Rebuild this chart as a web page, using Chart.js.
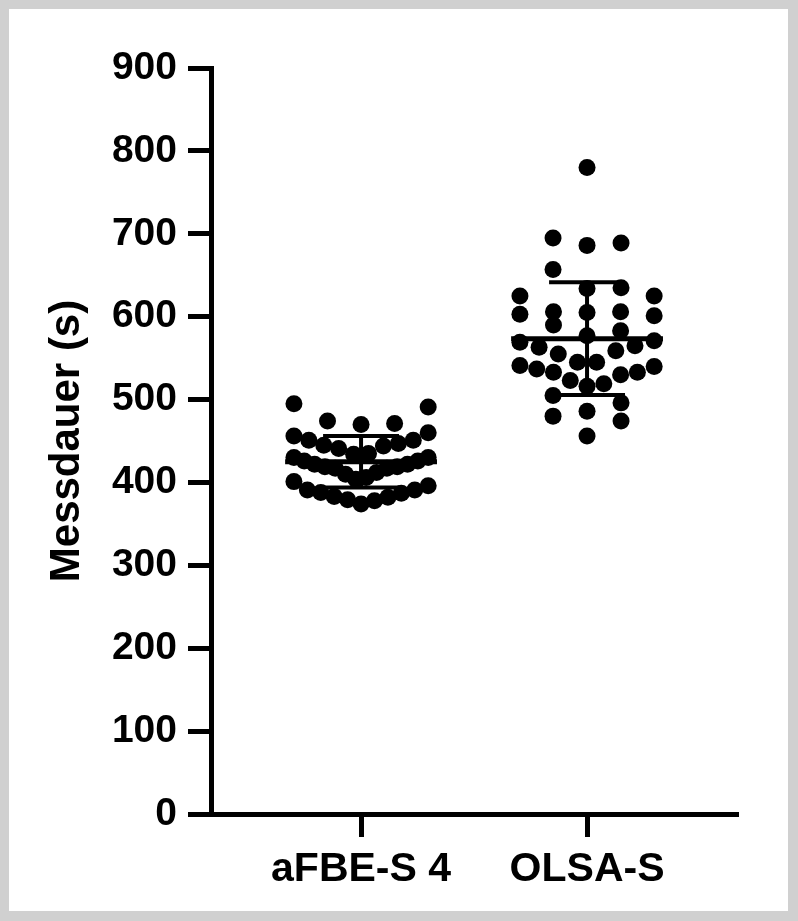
<!DOCTYPE html>
<html>
<head>
<meta charset="utf-8">
<title>Messdauer</title>
<script src="https://cdn.jsdelivr.net/npm/chart.js@4.4.1/dist/chart.umd.min.js"></script>
<style>
  html, body { margin: 0; padding: 0; background: #d0d0d0; }
  #frame { position: absolute; left: 9px; top: 9px; width: 779px; height: 902px; background: #fff; }
  canvas { display: block; }
</style>
</head>
<body>
<div id="frame"><canvas id="chart" width="779" height="902"></canvas></div>
<script>
// Categories and values
const categories = ['aFBE-S 4', 'OLSA-S'];
const afbeValues = [495, 491, 474, 470, 471, 456, 460, 451, 445, 441,
                    434, 435, 444, 447, 451, 430, 430, 426, 422, 419,
                    417, 426, 422, 419, 417, 412, 410, 406, 404, 401,
                    396, 391, 388, 383, 379, 374, 378, 382, 387, 391];
const olsaValues = [780, 695, 686, 689, 657, 634, 635, 625, 625, 605,
                    603, 601, 606, 606, 590, 577, 583, 569, 563, 555,
                    559, 565, 571, 545, 533, 545, 533, 530, 541, 537,
                    540, 523, 519, 516, 505, 496, 486, 480, 474, 456];
const meanVals = [425, 573.5];
const sdVals = [31, 68];
const yTicks = [0, 100, 200, 300, 400, 500, 600, 700, 800, 900];

// Style constants (x in axis units, row height in pixels)
const spreadHalf = 0.297;
const meanHalf = 0.336;
const capHalf = 0.168;
const rowPx = 23;
const FONT = "'Liberation Sans', Arial, sans-serif";

// Scatter dot plot layout: points are grouped in rows and spread
// symmetrically from the centre, lowest value in the middle
const spreadPlugin = {
  id: 'spread',
  afterDatasetsUpdate(chart) {
    const xs = chart.scales.x;
    const maxHalf = Math.abs(xs.getPixelForValue(spreadHalf) - xs.getPixelForValue(0));
    chart.data.datasets.forEach((ds, di) => {
      const pts = chart.getDatasetMeta(di).data;
      const d = ds.pointRadius * 2;
      const order = pts.map((p, i) => i).sort((a, b) => pts[b].y - pts[a].y);
      const rows = [];
      order.forEach(i => {
        const row = rows[rows.length - 1];
        if (row && pts[row[0]].y - pts[i].y <= rowPx) row.push(i);
        else rows.push([i]);
      });
      rows.forEach(row => {
        const n = row.length;
        if (n === 1) return;
        const step = Math.min(2 * d, (2 * maxHalf) / (n - 1));
        const slots = [];
        if (n % 2) {
          slots.push(0);
          for (let k = 1; slots.length < n; k++) slots.push(k, -k);
        } else {
          for (let k = 0.5; slots.length < n; k++) slots.push(-k, k);
        }
        row.forEach((idx, j) => { pts[idx].x += slots[j] * step; });
      });
    });
  }
};

// Mean line and SD whiskers
const meanSdPlugin = {
  id: 'meanSd',
  afterDatasetsDraw(chart) {
    const { ctx, scales: { x, y } } = chart;
    const line = (x1, y1, x2, y2) => {
      ctx.beginPath(); ctx.moveTo(x1, y1); ctx.lineTo(x2, y2); ctx.stroke();
    };
    ctx.save();
    ctx.strokeStyle = '#000';
    categories.forEach((c, i) => {
      const cx = x.getPixelForValue(i + 1);
      const m = y.getPixelForValue(meanVals[i]);
      const hi = y.getPixelForValue(meanVals[i] + sdVals[i]);
      const lo = y.getPixelForValue(meanVals[i] - sdVals[i]);
      const mw = x.getPixelForValue(i + 1 + meanHalf) - cx;
      const cw = x.getPixelForValue(i + 1 + capHalf) - cx;
      ctx.lineWidth = 5;
      line(cx - mw, m, cx + mw, m);
      ctx.lineWidth = 4;
      line(cx, hi, cx, lo);
      line(cx - cw, hi, cx + cw, hi);
      line(cx - cw, lo, cx + cw, lo);
    });
    ctx.restore();
  }
};

const groups = [afbeValues, olsaValues];

new Chart(document.getElementById('chart'), {
  type: 'scatter',
  data: {
    datasets: groups.map((vals, gi) => ({
      label: categories[gi],
      data: vals.map(v => ({ x: gi + 1, y: v })),
      pointRadius: 8.5,
      pointHoverRadius: 8.5,
      pointBorderWidth: 0,
      backgroundColor: '#000',
      borderColor: '#000'
    }))
  },
  options: {
    responsive: false,
    animation: false,
    events: [],
    layout: { padding: { top: 59, right: 50, left: 0, bottom: 0 } },
    plugins: { legend: { display: false }, tooltip: { enabled: false } },
    scales: {
      x: {
        type: 'linear',
        min: 0.336,
        max: 2.668,
        afterBuildTicks: scale => { scale.ticks = categories.map((c, i) => ({ value: i + 1 })); },
        afterFit: scale => { scale.height = 97; },
        ticks: {
          callback: v => categories[v - 1],
          color: '#000',
          font: { family: FONT, size: 41, weight: 'bold' },
          padding: 8,
          maxRotation: 0,
          autoSkip: false
        },
        grid: { display: true, drawOnChartArea: false, drawTicks: true, tickLength: 23, tickWidth: 5, tickColor: '#000' },
        border: { display: true, width: 5, color: '#000' }
      },
      y: {
        min: 0,
        max: 900,
        afterBuildTicks: scale => { scale.ticks = yTicks.map(v => ({ value: v })); },
        afterFit: scale => { scale.width = 202; },
        ticks: {
          color: '#000',
          font: { family: FONT, size: 39, weight: 'bold' },
          padding: 11
        },
        grid: { display: true, drawOnChartArea: false, drawTicks: true, tickLength: 23, tickWidth: 5, tickColor: '#000' },
        border: { display: true, width: 5, color: '#000' },
        title: {
          display: true,
          text: 'Messdauer (s)',
          color: '#000',
          font: { family: FONT, size: 42, weight: 'bold' },
          padding: { top: 33, bottom: 0 }
        }
      }
    }
  },
  plugins: [spreadPlugin, meanSdPlugin]
});
</script>
</body>
</html>
